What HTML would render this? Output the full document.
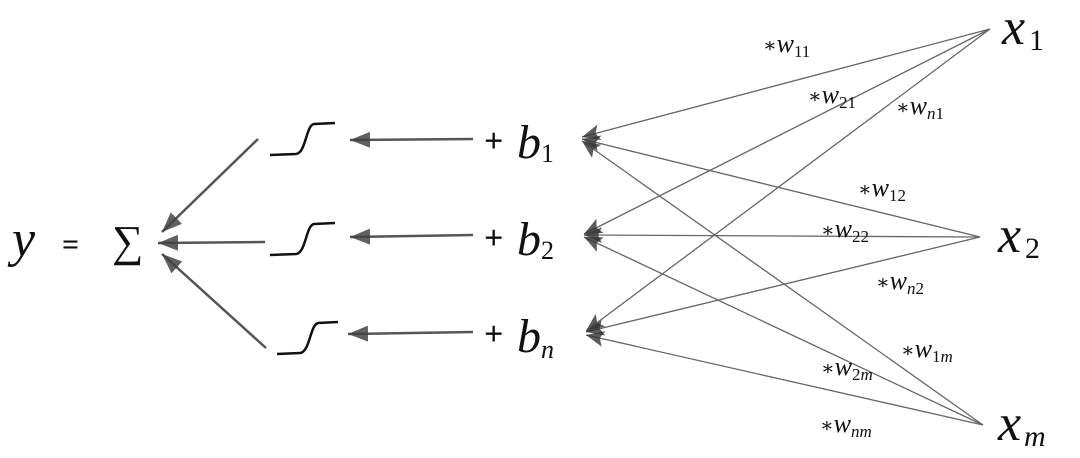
<!DOCTYPE html>
<html><head><meta charset="utf-8"><style>
html,body{margin:0;padding:0;background:#fff;}
svg{display:block}
text{font-family:"Liberation Serif","DejaVu Serif",serif;fill:#111}
.m{font-style:italic}
</style></head><body>
<svg width="1080" height="458" viewBox="0 0 1080 458" xmlns="http://www.w3.org/2000/svg">
<defs>
<marker id="b" markerWidth="18" markerHeight="16" refX="18" refY="8" orient="auto" markerUnits="userSpaceOnUse" viewBox="0 0 18 16">
<path d="M18,8 L0,0 L4,8 L0,16 Z" fill="#333" opacity="0.8"/>
</marker>
<marker id="c" markerWidth="20" markerHeight="16" refX="20" refY="8" orient="auto" markerUnits="userSpaceOnUse" viewBox="0 0 20 16">
<path d="M20,8 L0,0 L0,16 Z" fill="#444" opacity="0.85"/>
</marker>
</defs>
<!-- y = sum -->
<text x="12" y="256" class="m" font-size="52">y</text>
<text x="62" y="254" font-size="30" font-weight="bold" font-family="Liberation Sans">=</text>
<text x="112" y="256" font-size="44">∑</text>
<!-- converging arrows -->
<g stroke="#555" stroke-width="2.5" fill="none">
<line x1="258" y1="139" x2="162" y2="232" marker-end="url(#c)"/>
<line x1="265" y1="242" x2="158" y2="243" marker-end="url(#c)"/>
<line x1="266" y1="348" x2="162" y2="254" marker-end="url(#c)"/>
</g>
<!-- sigmoids -->
<g stroke="#111" stroke-width="2.5" fill="none">
<path d="M270,155 L296,154 C306,153 306,125 314,124 L335,123"/>
<path d="M270,255 L296,254 C306,253 306,225 314,224 L335,223"/>
<path d="M277,354 L300,353 C310,352 310,325 318,323 L338,322"/>
</g>
<!-- b arrows -->
<g stroke="#555" stroke-width="2.5" fill="none">
<line x1="473" y1="139" x2="350" y2="140" marker-end="url(#c)"/>
<line x1="473" y1="235" x2="350" y2="237" marker-end="url(#c)"/>
<line x1="473" y1="332" x2="348" y2="334" marker-end="url(#c)"/>
</g>
<g>
<text x="484" y="152" font-size="34" font-family="Liberation Sans" font-weight="bold">+</text>
<text x="517" y="158" class="m" font-size="48">b</text><text x="541" y="162" font-size="26">1</text>
<text x="484" y="249" font-size="34" font-family="Liberation Sans" font-weight="bold">+</text>
<text x="517" y="255" class="m" font-size="48">b</text><text x="541" y="259" font-size="26">2</text>
<text x="484" y="345" font-size="34" font-family="Liberation Sans" font-weight="bold">+</text>
<text x="517" y="352" class="m" font-size="48">b</text><text x="541" y="358" font-size="26" class="m">n</text>
</g>
<!-- weight lines -->
<g stroke="#666" stroke-width="1.3" fill="none">
<line x1="990" y1="29" x2="582" y2="137" marker-end="url(#b)"/>
<line x1="990" y1="29" x2="584" y2="234" marker-end="url(#b)"/>
<line x1="990" y1="29" x2="586" y2="331" marker-end="url(#b)"/>
<line x1="980" y1="237" x2="582" y2="139" marker-end="url(#b)"/>
<line x1="980" y1="237" x2="584" y2="235" marker-end="url(#b)"/>
<line x1="980" y1="237" x2="586" y2="332" marker-end="url(#b)"/>
<line x1="983" y1="425" x2="582" y2="141" marker-end="url(#b)"/>
<line x1="983" y1="425" x2="584" y2="237" marker-end="url(#b)"/>
<line x1="983" y1="425" x2="586" y2="335" marker-end="url(#b)"/>
</g>
<!-- x labels -->
<text x="1002" y="44" class="m" font-size="52">x</text><text x="1029" y="50" font-size="30">1</text>
<text x="998" y="252" class="m" font-size="52">x</text><text x="1025" y="258" font-size="30">2</text>
<text x="998" y="440" class="m" font-size="52">x</text><text x="1024" y="446" font-size="30" class="m">m</text>
<!-- weights -->
<g font-size="26">
<text x="763" y="52"><tspan font-size="20">∗</tspan><tspan class="m">w</tspan><tspan font-size="17" dy="5">11</tspan></text>
<text x="808" y="103"><tspan font-size="20">∗</tspan><tspan class="m">w</tspan><tspan font-size="17" dy="5">21</tspan></text>
<text x="896" y="114"><tspan font-size="20">∗</tspan><tspan class="m">w</tspan><tspan font-size="17" dy="5" class="m">n</tspan><tspan font-size="17">1</tspan></text>
<text x="858" y="196"><tspan font-size="20">∗</tspan><tspan class="m">w</tspan><tspan font-size="17" dy="5">12</tspan></text>
<text x="821" y="237"><tspan font-size="20">∗</tspan><tspan class="m">w</tspan><tspan font-size="17" dy="5">22</tspan></text>
<text x="876" y="289"><tspan font-size="20">∗</tspan><tspan class="m">w</tspan><tspan font-size="17" dy="5" class="m">n</tspan><tspan font-size="17">2</tspan></text>
<text x="901" y="357"><tspan font-size="20">∗</tspan><tspan class="m">w</tspan><tspan font-size="17" dy="5">1</tspan><tspan font-size="17" class="m">m</tspan></text>
<text x="821" y="375"><tspan font-size="20">∗</tspan><tspan class="m">w</tspan><tspan font-size="17" dy="5">2</tspan><tspan font-size="17" class="m">m</tspan></text>
<text x="820" y="432"><tspan font-size="20">∗</tspan><tspan class="m">w</tspan><tspan font-size="17" dy="5" class="m">nm</tspan></text>
</g>
</svg>
</body></html>
